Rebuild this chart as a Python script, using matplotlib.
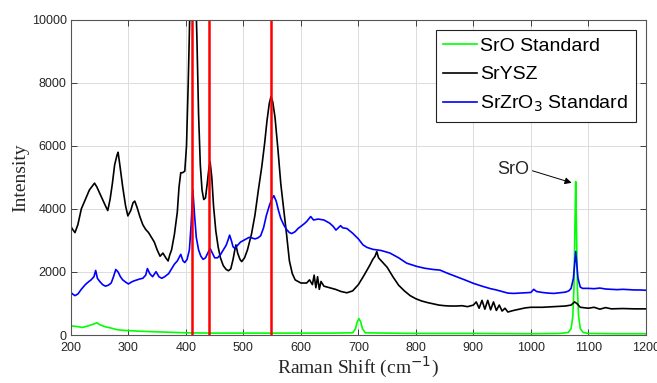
import matplotlib
matplotlib.use("Agg")
import matplotlib.pyplot as plt

# ---- data ----
black_x = [200, 203, 207, 212, 218, 225, 232, 238, 241, 245, 250, 255, 260, 264, 268, 272, 276, 280, 282, 285,
           290, 295, 299, 304, 308, 311, 315, 320, 325, 330, 335, 340, 345, 350, 355, 360, 365, 369, 372, 375,
           380, 385, 388, 391, 394, 398, 401, 404, 407, 410, 413, 416, 419, 422, 425, 428, 431, 434, 437, 440,
           442, 445, 448, 452, 456, 460, 465, 470, 474, 478, 482, 485, 487, 490, 494, 497, 502, 507, 514, 520,
           526, 532, 537, 541, 545, 548, 551, 555, 560, 565, 570, 575, 580, 585, 590, 595, 600, 610, 615, 620,
           623, 626, 629, 632, 635, 640, 650, 660, 670, 680, 690, 700, 710, 720, 725, 729, 732, 735, 740, 745,
           750, 760, 770, 780, 790, 800, 810, 820, 830, 840, 850, 860, 870, 880, 890, 900, 905, 910, 915, 920,
           925, 930, 935, 940, 945, 950, 955, 960, 970, 980, 990, 1000, 1020, 1040, 1060, 1070, 1076, 1080, 1086,
           1100, 1110, 1120, 1130, 1140, 1160, 1180, 1200]
black_y = [3440, 3350, 3250, 3500, 4000, 4300, 4600, 4750, 4820, 4700, 4500, 4300, 4100, 3950, 4300, 4800, 5400, 5700, 5800, 5400,
           4700, 4100, 3780, 3950, 4200, 4250, 4050, 3750, 3500, 3350, 3250, 3100, 2950, 2700, 2500, 2600, 2450, 2350, 2550, 2700,
           3200, 3900, 4700, 5150, 5150, 5200, 6000, 8000, 10500, 12000, 12500, 11500, 9500, 7000, 5400, 4600, 4300, 4350, 4800, 5300,
           5500, 5000, 4100, 3300, 2800, 2450, 2200, 2080, 2040, 2100, 2400, 2700, 2860, 2600, 2400, 2330, 2450, 2700, 3200, 3800,
           4600, 5350, 6100, 6800, 7350, 7570, 7400, 6900, 5900, 4800, 4000, 3200, 2350, 1950, 1750, 1700, 1650, 1650, 1750, 1600,
           1900, 1500, 1850, 1450, 1700, 1550, 1500, 1450, 1380, 1340, 1400, 1600, 1900, 2220, 2400, 2500, 2650, 2450, 2350, 2250,
           2150, 1850, 1580, 1400, 1250, 1150, 1080, 1030, 990, 950, 930, 920, 920, 930, 900, 950, 1050, 850, 1100, 820,
           1100, 800, 1050, 780, 950, 760, 850, 730, 780, 820, 860, 880, 880, 900, 920, 950, 1050, 1000, 880,
           850, 880, 820, 870, 830, 840, 830, 830]

blue_x = [200, 203, 207, 212, 218, 225, 230, 235, 240, 243, 246, 250, 255, 260, 265, 270, 274, 278, 282, 286,
          290, 295, 300, 305, 310, 315, 320, 325, 330, 333, 337, 342, 348, 353, 358, 363, 370, 375, 380, 385,
          391, 395, 398, 402, 406, 409, 412, 415, 418, 422, 426, 430, 434, 438, 442, 446, 450, 455, 460, 465,
          470, 473, 476, 479, 482, 485, 490, 495, 500, 505, 510, 515, 520, 525, 530, 535, 540, 545, 549, 553,
          557, 561, 565, 570, 575, 580, 584, 590, 595, 600, 605, 610, 617, 622, 630, 640, 650, 656, 661, 665,
          669, 673, 680, 690, 700, 708, 715, 725, 740, 755, 770, 784, 801, 815, 830, 842, 855, 871, 885, 900,
          915, 930, 940, 950, 960, 970, 980, 990, 1000, 1005, 1010, 1020, 1030, 1040, 1050, 1060, 1066, 1070, 1074,
          1078, 1082, 1086, 1090, 1100, 1110, 1120, 1130, 1140, 1150, 1160, 1170, 1180, 1190, 1200]
blue_y = [1350, 1300, 1250, 1300, 1450, 1600, 1680, 1750, 1850, 2050, 1800, 1700, 1600, 1550, 1580, 1650, 1850, 2080, 2000, 1850,
          1750, 1680, 1620, 1680, 1720, 1750, 1780, 1800, 1900, 2110, 1950, 1850, 2010, 1850, 1800, 1850, 1950, 2100, 2250, 2350,
          2560, 2350, 2300, 2400, 2700, 3500, 4600, 3800, 3100, 2700, 2500, 2400, 2450, 2600, 2750, 2600, 2450, 2450, 2550, 2700,
          2850, 3000, 3170, 3000, 2800, 2750, 2850, 2950, 3000, 3050, 3100, 3080, 3050, 3080, 3150, 3400, 3800, 4100, 4300, 4420,
          4250, 3950, 3700, 3500, 3350, 3250, 3220, 3280, 3380, 3450, 3520, 3600, 3760, 3650, 3680, 3650, 3550, 3450, 3330, 3400,
          3470, 3400, 3380, 3230, 3050, 2860, 2780, 2720, 2680, 2600, 2450, 2280, 2180, 2120, 2080, 2060, 1960, 1850, 1750, 1640,
          1550, 1470, 1430, 1380, 1330, 1320, 1330, 1340, 1350, 1450, 1380, 1350, 1330, 1320, 1340, 1360, 1400, 1480, 1800,
          2650, 1800, 1520, 1480, 1480, 1470, 1490, 1460, 1450, 1440, 1450, 1440, 1430, 1430, 1420]

green_x = [200, 210, 220, 230, 240, 245, 250, 260, 270, 280, 290, 300, 320, 350, 400, 450, 500, 550, 600, 650,
           690, 695, 698, 701, 704, 707, 712, 750, 800, 900, 1000, 1050, 1065, 1070, 1073, 1075, 1077, 1078, 1079,
           1081, 1083, 1086, 1091, 1100, 1150, 1200]
green_y = [290, 270, 240, 290, 350, 390, 330, 260, 220, 170, 150, 140, 120, 100, 70, 60, 60, 60, 60, 60,
           70, 200, 420, 520, 420, 200, 70, 60, 50, 50, 40, 50, 80, 200, 600, 1500, 3800, 4870, 3800,
           1500, 600, 200, 80, 50, 40, 40]

red_lines = [410, 440, 548]
labels = ["SrO Standard", "SrYSZ", "SrZrO$_3$ Standard"]
x_ticks = list(range(200, 1201, 100))
y_ticks = list(range(0, 10001, 2000))

# ---- figure ----
fig = plt.figure(figsize=(6.57, 3.83), dpi=100)
ax = fig.add_axes([0.108, 0.1253, 0.875, 0.8227])

axc = "#262626"
ax.plot(green_x, green_y, color="#00ff00", lw=1.2, label=labels[0])
ax.plot(black_x, black_y, color="black", lw=1.2, label=labels[1])
ax.plot(blue_x, blue_y, color="#0000ff", lw=1.2, label=labels[2])
for xv in red_lines:
    ax.axvline(xv, color="#ff0000", lw=1.8)

ax.set_xlim(200, 1200)
ax.set_ylim(0, 10000)
ax.set_xticks(x_ticks)
ax.set_yticks(y_ticks)
ax.grid(True, color="#dcdcdc", lw=0.7)
ax.set_axisbelow(True)
ax.tick_params(direction="in", top=True, right=True, labelsize=9, colors=axc, length=4, width=0.6)
ax.tick_params(axis="x", pad=5)
ax.tick_params(axis="y", pad=3)
for s in ax.spines.values():
    s.set_color("#555555")
    s.set_linewidth(0.8)

ax.set_xlabel("Raman Shift (cm$^{-1}$)", family="Liberation Serif", fontsize=14, color=axc, labelpad=1)
ax.set_ylabel("Intensity", family="Liberation Serif", fontsize=14, color=axc, labelpad=2)
for t in ax.get_xticklabels() + ax.get_yticklabels():
    t.set_family("Liberation Sans")

ax.annotate("SrO", xy=(1071, 4830), xytext=(970, 5240), ha="center", va="center",
            fontsize=13, family="Liberation Sans", color=axc,
            arrowprops=dict(arrowstyle="-|>", color="black", lw=0.7, relpos=(1.0, 0.5),
                            shrinkA=0, shrinkB=0, mutation_scale=10))

leg = ax.legend(loc="upper right", frameon=True, fancybox=False,
                edgecolor="#222222", framealpha=1, borderaxespad=0.5,
                handlelength=1.7, handletextpad=0.2, labelspacing=0.55, borderpad=0.4,
                prop={"family": "Liberation Sans", "size": 14})
leg.get_frame().set_linewidth(0.8)

fig.savefig("out.png", dpi=100)
